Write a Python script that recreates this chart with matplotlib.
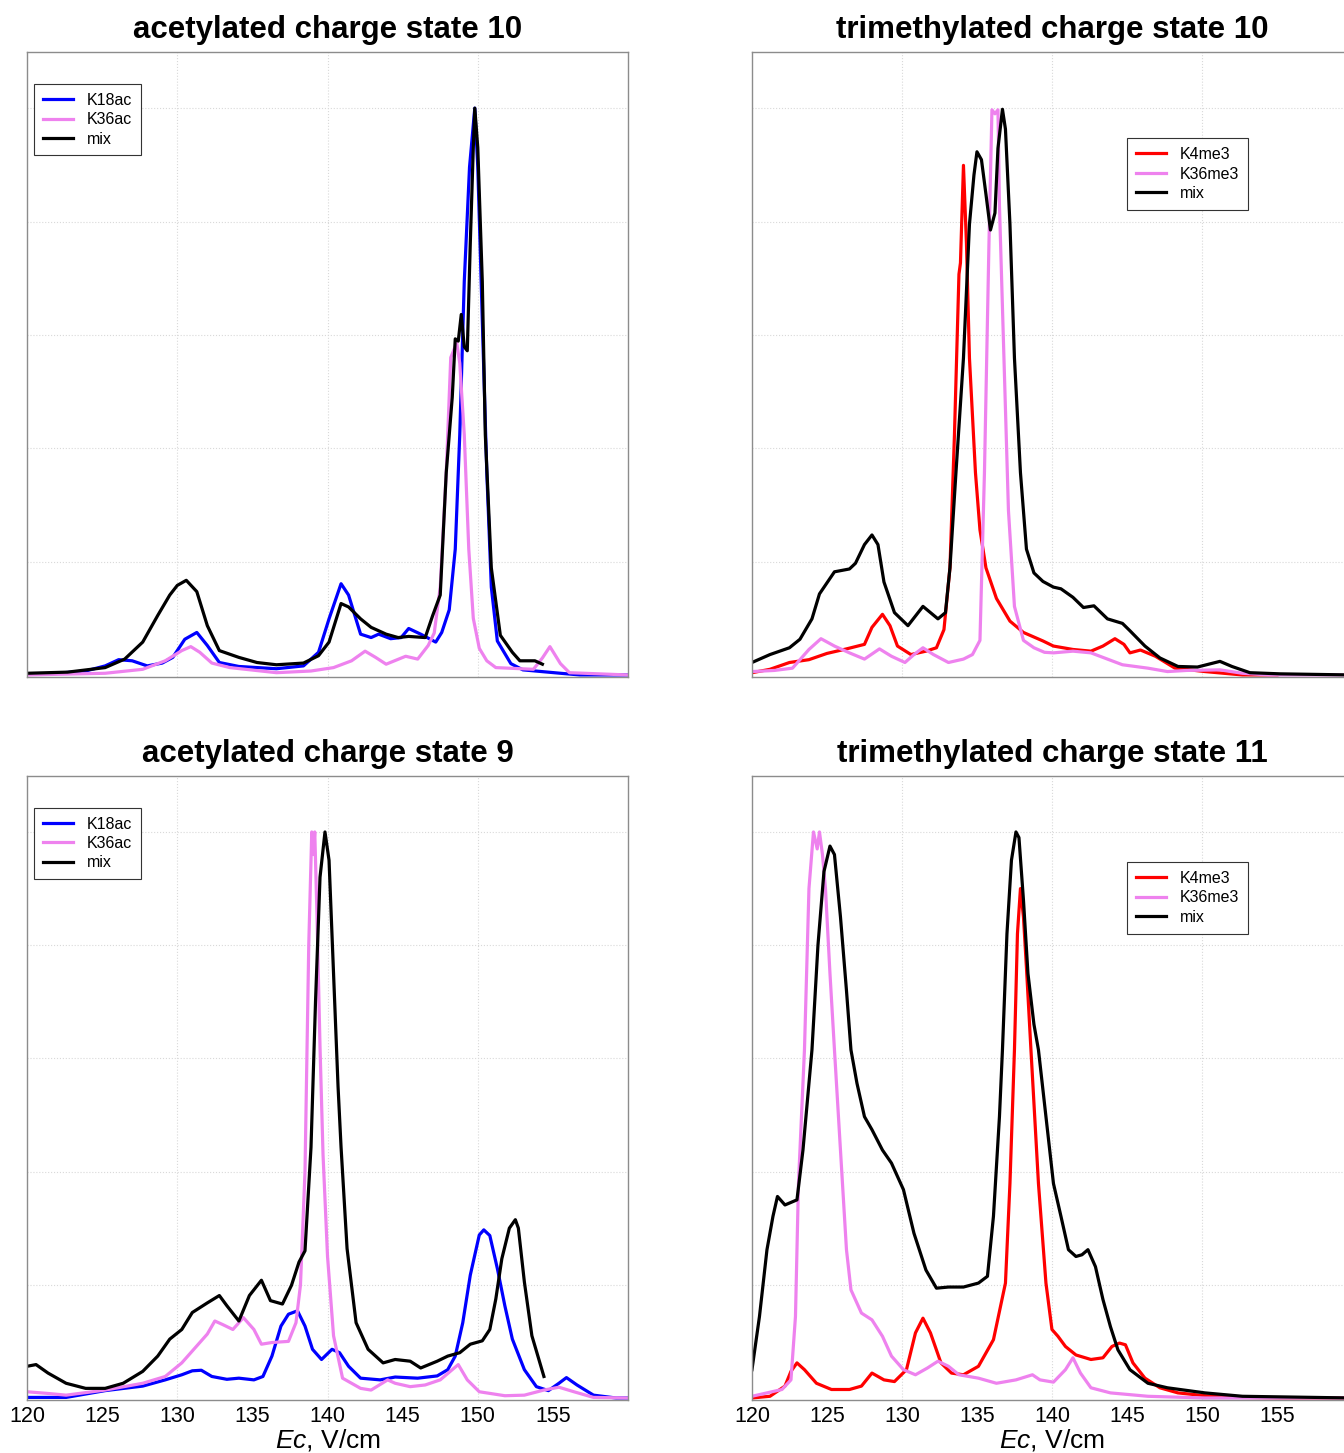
import numpy as np
import matplotlib
matplotlib.use("Agg")
import matplotlib.pyplot as plt

plt.rcParams['font.family'] = ['Liberation Sans', 'DejaVu Sans']
plt.rcParams['mathtext.fontset'] = 'custom'
plt.rcParams['mathtext.it'] = 'Liberation Sans:italic'
plt.rcParams['mathtext.rm'] = 'Liberation Sans'

# ---- acetylated charge state 10 ----
a10_k18_x = [120, 122, 123.9, 125.2, 126.1, 127.0, 128.0, 129.0, 129.7, 130.5, 131.3, 132.0, 132.8, 134.1,
             136.6, 138.4, 139.4, 140.1, 140.9, 141.4, 142.2, 142.9, 143.4, 144.2, 144.9, 145.4, 146.2,
             147.2, 147.6, 148.1, 148.5, 148.8, 149.1, 149.45, 149.8, 150.0, 150.3, 150.6, 150.9, 151.3,
             152.2, 153.0, 155.5, 156.8, 160]
a10_k18_y = [0.001, 0.003, 0.007, 0.016, 0.027, 0.025, 0.016, 0.021, 0.031, 0.063, 0.075, 0.052, 0.022, 0.015,
             0.011, 0.016, 0.040, 0.099, 0.161, 0.141, 0.072, 0.066, 0.072, 0.064, 0.066, 0.082, 0.072,
             0.058, 0.075, 0.115, 0.222, 0.424, 0.694, 0.896, 1.0, 0.896, 0.626, 0.357, 0.155, 0.06,
             0.02, 0.009, 0.003, 0.0, 0.0]
a10_k36_x = [120, 125.2, 127.7, 129.2, 130.3, 130.9, 131.5, 132.3, 133.5, 136.6, 138.9, 140.4, 141.6, 142.5,
             143.2, 143.9, 145.2, 146.0, 146.7, 147.1, 147.5, 147.9, 148.2, 148.6, 148.8, 149.1, 149.4,
             149.7, 150.1, 150.6, 151.2, 153.7, 154.3, 154.8, 155.5, 156.1, 160]
a10_k36_y = [0.0, 0.003, 0.010, 0.025, 0.043, 0.050, 0.040, 0.021, 0.013, 0.004, 0.007, 0.013, 0.025, 0.042,
             0.031, 0.019, 0.033, 0.028, 0.052, 0.074, 0.155, 0.357, 0.56, 0.586, 0.55, 0.424, 0.222,
             0.1, 0.047, 0.025, 0.013, 0.01, 0.03, 0.05, 0.02, 0.004, 0.0]
a10_mix_x = [120, 122.7, 125.2, 126.5, 127.7, 128.7, 129.5, 130.0, 130.6, 131.3, 132.0, 132.8, 134.1, 135.3,
             136.6, 138.4, 139.4, 140.1, 140.9, 141.4, 142.2, 142.9, 143.9, 144.7, 145.4, 146.5, 147.0,
             147.5, 147.9, 148.3, 148.5, 148.7, 148.9, 149.1, 149.3, 149.5, 149.7, 149.8, 150.0, 150.3,
             150.5, 150.9, 151.5, 152.3, 152.8, 153.8, 154.3]
a10_mix_y = [0.003, 0.005, 0.013, 0.028, 0.058, 0.105, 0.141, 0.158, 0.167, 0.147, 0.087, 0.043, 0.031, 0.022,
             0.018, 0.021, 0.034, 0.058, 0.126, 0.12, 0.099, 0.084, 0.072, 0.066, 0.068, 0.066, 0.105,
             0.141, 0.357, 0.49, 0.593, 0.589, 0.636, 0.579, 0.572, 0.761, 0.93, 1.0, 0.93, 0.694,
             0.424, 0.189, 0.07, 0.04, 0.025, 0.025, 0.019]

# ---- trimethylated charge state 10 ----
t10_k4_x = [120, 121.2, 122.5, 123.8, 125.0, 126.3, 127.5, 128.0, 128.7, 129.2, 129.7, 130.6, 131.6, 132.3,
            132.8, 133.2, 133.5, 133.8, 133.9, 134.1, 134.3, 134.5, 134.9, 135.2, 135.6, 136.3, 137.2,
            138.1, 139.4, 140.1, 141.4, 142.6, 143.4, 144.2, 144.8, 145.2, 145.9, 146.9, 148.2, 150.2,
            152.7, 155]
t10_k4_y = [0.004, 0.01, 0.022, 0.027, 0.038, 0.046, 0.054, 0.084, 0.107, 0.087, 0.051, 0.036, 0.042, 0.048,
            0.08, 0.189, 0.424, 0.707, 0.727, 0.899, 0.761, 0.559, 0.357, 0.256, 0.189, 0.135, 0.095,
            0.075, 0.06, 0.051, 0.045, 0.042, 0.051, 0.064, 0.054, 0.039, 0.044, 0.033, 0.012, 0.006,
            0.0, 0.0]
t10_k36_x = [120, 121.5, 122.7, 123.8, 124.6, 125.5, 126.5, 127.5, 128.5, 129.3, 130.2, 130.8, 131.4, 132.1,
             133.1, 134.1, 134.7, 135.2, 135.5, 135.8, 136.0, 136.2, 136.4, 136.5, 136.8, 137.1, 137.5,
             138.1, 138.8, 139.5, 140.1, 141.4, 142.6, 143.7, 144.7, 146.4, 147.7, 149.0, 151.2, 152.7,
             154.5, 160]
t10_k36_y = [0.006, 0.008, 0.012, 0.045, 0.064, 0.051, 0.039, 0.028, 0.046, 0.033, 0.022, 0.036, 0.048, 0.036,
             0.022, 0.028, 0.036, 0.061, 0.357, 0.761, 0.997, 0.99, 0.997, 0.828, 0.559, 0.29, 0.121,
             0.061, 0.048, 0.04, 0.039, 0.042, 0.039, 0.028, 0.018, 0.012, 0.006, 0.008, 0.009, 0.003,
             0.0, 0.0]
t10_mix_x = [120, 121.2, 122.5, 123.2, 124.0, 124.5, 125.5, 126.5, 126.9, 127.5, 128.0, 128.4, 128.8, 129.5,
             130.4, 130.9, 131.4, 131.9, 132.4, 132.9, 133.2, 133.6, 134.1, 134.5, 134.8, 135.0, 135.3,
             135.6, 135.9, 136.2, 136.4, 136.7, 136.9, 137.2, 137.5, 137.9, 138.3, 138.8, 139.4, 140.1,
             140.6, 141.4, 142.1, 142.8, 143.7, 144.7, 145.2, 146.2, 147.2, 148.4, 149.7, 150.6, 151.2,
             152.0, 153.2, 155.2, 160]
t10_mix_y = [0.022, 0.036, 0.048, 0.063, 0.099, 0.143, 0.182, 0.187, 0.197, 0.23, 0.247, 0.23, 0.164, 0.11,
             0.087, 0.104, 0.121, 0.11, 0.099, 0.11, 0.189, 0.357, 0.559, 0.795, 0.882, 0.923, 0.909,
             0.848, 0.785, 0.815, 0.929, 0.998, 0.963, 0.795, 0.559, 0.357, 0.222, 0.18, 0.165, 0.155,
             0.152, 0.137, 0.119, 0.122, 0.099, 0.091, 0.078, 0.051, 0.030, 0.015, 0.014, 0.02, 0.024,
             0.015, 0.004, 0.002, 0.0]

# ---- acetylated charge state 9 ----
a9_k18_x = [120, 122.6, 125.2, 127.7, 129.2, 130.3, 131.0, 131.6, 132.3, 133.3, 134.1, 135.1, 135.7, 136.3,
            136.9, 137.4, 138.0, 138.5, 139.0, 139.6, 140.3, 140.8, 141.4, 142.2, 143.5, 144.5, 146.0,
            147.3, 148.0, 148.5, 149.0, 149.5, 150.1, 150.4, 150.8, 151.3, 151.8, 152.3, 153.1, 153.9,
            154.7, 155.4, 155.9, 156.6, 157.7, 159.2, 160]
a9_k18_y = [0.001, 0.001, 0.013, 0.021, 0.032, 0.041, 0.048, 0.049, 0.038, 0.033, 0.035, 0.032, 0.038, 0.074,
            0.127, 0.148, 0.154, 0.127, 0.086, 0.068, 0.086, 0.08, 0.056, 0.035, 0.032, 0.037, 0.035,
            0.039, 0.05, 0.074, 0.133, 0.217, 0.288, 0.297, 0.287, 0.229, 0.163, 0.104, 0.05, 0.02,
            0.013, 0.026, 0.036, 0.023, 0.005, 0.0, 0.0]
a9_k36_x = [120, 121.4, 122.6, 125.2, 127.7, 129.2, 130.3, 131.3, 132.0, 132.5, 133.0, 133.7, 134.4, 135.1,
            135.6, 136.3, 137.4, 137.9, 138.2, 138.5, 138.75, 138.95, 139.05, 139.15, 139.3, 139.5, 139.7,
            140.0, 140.4, 141.0, 142.2, 142.9, 144.0, 144.5, 145.5, 146.5, 147.5, 148.3, 148.7, 149.3,
            150.1, 151.8, 153.1, 154.4, 155.4, 156.4, 157.7, 160]
a9_k36_y = [0.011, 0.008, 0.005, 0.014, 0.026, 0.038, 0.062, 0.092, 0.113, 0.136, 0.13, 0.121, 0.142, 0.121,
            0.095, 0.098, 0.1, 0.133, 0.2, 0.4, 0.8, 1.0, 0.96, 1.0, 0.85, 0.62, 0.43,
            0.25, 0.11, 0.035, 0.017, 0.014, 0.032, 0.026, 0.02, 0.023, 0.032, 0.05, 0.059, 0.032,
            0.011, 0.004, 0.005, 0.014, 0.019, 0.011, 0.001, 0.0]
a9_mix_x = [120, 120.6, 121.4, 122.6, 123.9, 125.2, 126.4, 127.7, 128.7, 129.5, 130.3, 131.0, 132.0, 132.8,
            133.3, 134.1, 134.8, 135.6, 136.2, 137.0, 137.6, 138.1, 138.5, 138.9, 139.2, 139.5, 139.83,
            140.1, 140.4, 140.7, 140.9, 141.3, 141.9, 142.7, 143.7, 144.5, 145.5, 146.2, 147.3, 148.0,
            148.8, 149.5, 150.3, 150.8, 151.2, 151.6, 152.1, 152.5, 152.7, 153.1, 153.6, 154.4]
a9_mix_y = [0.056, 0.059, 0.044, 0.026, 0.017, 0.017, 0.026, 0.047, 0.074, 0.104, 0.121, 0.151, 0.168, 0.181,
            0.163, 0.136, 0.181, 0.208, 0.172, 0.166, 0.199, 0.24, 0.26, 0.443, 0.7, 0.92, 1.0,
            0.95, 0.75, 0.55, 0.443, 0.264, 0.133, 0.086, 0.062, 0.068, 0.065, 0.053, 0.065, 0.074,
            0.08, 0.095, 0.101, 0.121, 0.175, 0.246, 0.3, 0.315, 0.3, 0.205, 0.11, 0.038]

# ---- trimethylated charge state 11 ----
t11_k4_x = [120, 121.2, 122.2, 122.6, 123.0, 123.5, 124.3, 125.3, 126.5, 127.3, 128.0, 128.8, 129.5, 130.3,
            130.9, 131.4, 131.9, 132.6, 133.3, 134.1, 135.1, 136.1, 136.9, 137.2, 137.5, 137.7, 137.9,
            138.1, 138.3, 138.6, 139.1, 139.6, 140.0, 140.4, 140.9, 141.6, 142.6, 143.4, 144.0, 144.5,
            144.9, 145.4, 146.2, 147.2, 148.4, 150.2, 152.7, 155.2, 160]
t11_k4_y = [0, 0.003, 0.021, 0.047, 0.062, 0.05, 0.026, 0.015, 0.015, 0.021, 0.044, 0.032, 0.029, 0.05,
            0.115, 0.141, 0.115, 0.062, 0.044, 0.041, 0.056, 0.103, 0.203, 0.379, 0.615, 0.82, 0.9,
            0.85, 0.76, 0.615, 0.379, 0.203, 0.121, 0.109, 0.091, 0.076, 0.068, 0.071, 0.091, 0.097,
            0.094, 0.062, 0.035, 0.018, 0.009, 0.004, 0.001, 0, 0]
t11_k36_x = [120, 121.0, 122.0, 122.6, 122.9, 123.1, 123.5, 123.8, 124.1, 124.35, 124.5, 124.7, 124.9, 125.2,
             125.5, 125.9, 126.3, 126.6, 127.3, 128.0, 128.7, 129.3, 130.1, 130.9, 131.7, 132.4, 133.1,
             133.8, 135.1, 136.3, 137.6, 138.7, 139.2, 140.1, 140.9, 141.4, 141.9, 142.6, 143.9, 146.4,
             150.2, 160]
t11_k36_y = [0.003, 0.009, 0.015, 0.032, 0.144, 0.379, 0.615, 0.9, 1.0, 0.97, 1.0, 0.96, 0.9, 0.75,
             0.615, 0.438, 0.262, 0.191, 0.15, 0.138, 0.109, 0.074, 0.05, 0.041, 0.053, 0.065, 0.056,
             0.041, 0.035, 0.026, 0.032, 0.041, 0.032, 0.028, 0.05, 0.071, 0.044, 0.018, 0.009, 0.003,
             0, 0]
t11_mix_x = [120, 120.5, 121.0, 121.4, 121.7, 122.2, 123.0, 123.4, 123.8, 124.0, 124.4, 124.8, 125.2, 125.5,
             125.9, 126.3, 126.6, 127.0, 127.5, 128.0, 128.7, 129.3, 130.1, 130.8, 131.6, 132.3, 133.1,
             134.1, 135.1, 135.7, 136.1, 136.5, 136.7, 137.0, 137.3, 137.6, 137.8, 138.1, 138.4, 138.8,
             139.1, 139.6, 140.1, 140.6, 141.1, 141.6, 142.0, 142.4, 142.9, 143.4, 143.9, 144.4, 145.2,
             146.4, 147.7, 150.2, 152.7, 160]
t11_mix_y = [0.05, 0.144, 0.262, 0.321, 0.356, 0.341, 0.35, 0.438, 0.556, 0.615, 0.8, 0.93, 0.975, 0.96,
             0.85, 0.72, 0.615, 0.556, 0.497, 0.474, 0.438, 0.415, 0.368, 0.291, 0.226, 0.194, 0.196,
             0.196, 0.203, 0.215, 0.321, 0.497, 0.615, 0.82, 0.95, 1.0, 0.99, 0.88, 0.75, 0.66,
             0.615, 0.497, 0.379, 0.321, 0.262, 0.25, 0.253, 0.262, 0.232, 0.174, 0.126, 0.085, 0.05,
             0.026, 0.018, 0.009, 0.003, 0]

x_ticks = [120, 125, 130, 135, 140, 145, 150, 155]
blue = '#0000ff'
violet = '#ee82ee'
red = '#ff0000'


def panel(ax, title, series, leg_pos, bottom):
    for x, y, c, lab in series:
        ax.plot(x, y, color=c, lw=2.3, label=lab)
    # dotted grid like R's grid()
    for gx in (130, 140, 150):
        ax.axvline(gx, color='#d9d9d9', lw=0.8, ls=':', zorder=0)
    for gy in (0.2, 0.4, 0.6, 0.8, 1.0):
        ax.axhline(gy, color='#d9d9d9', lw=0.8, ls=':', zorder=0)
    ax.set_xlim(120, 160)
    ax.set_ylim(-0.0035, 1.099)
    ax.set_yticks([])
    ax.set_xticks(x_ticks)
    ax.tick_params(axis='x', length=0, pad=4, labelsize=15.5)
    if not bottom:
        ax.set_xticklabels([])
    else:
        ax.set_xlabel(r'$\mathit{Ec}$, V/cm', fontsize=19, labelpad=0)
    for s in ax.spines.values():
        s.set_color('#8c8c8c')
        s.set_linewidth(1.0)
    ax.set_title(title, fontsize=22.5, fontweight='bold', pad=10)
    leg = ax.legend(loc='upper left', bbox_to_anchor=leg_pos, fontsize=11.5, handlelength=1.9,
                    labelspacing=0.28, borderpad=0.55, handletextpad=0.85, fancybox=False,
                    framealpha=1, borderaxespad=0)
    leg.get_frame().set_edgecolor('#333333')
    leg.get_frame().set_linewidth(0.8)


fig = plt.figure(figsize=(13.44, 14.53), dpi=100)
ax1 = fig.add_axes([0.0201, 0.5341, 0.4472, 0.4301])
ax2 = fig.add_axes([0.5595, 0.5341, 0.4464, 0.4301])
ax3 = fig.add_axes([0.0201, 0.0365, 0.4472, 0.4295])
ax4 = fig.add_axes([0.5595, 0.0365, 0.4464, 0.4295])

panel(ax1, 'acetylated charge state 10',
      [(a10_k18_x, a10_k18_y, blue, 'K18ac'), (a10_k36_x, a10_k36_y, violet, 'K36ac'),
       (a10_mix_x, a10_mix_y, 'black', 'mix')], (0.012, 0.949), False)
panel(ax2, 'trimethylated charge state 10',
      [(t10_k4_x, t10_k4_y, red, 'K4me3'), (t10_k36_x, t10_k36_y, violet, 'K36me3'),
       (t10_mix_x, t10_mix_y, 'black', 'mix')], (0.625, 0.862), False)
panel(ax3, 'acetylated charge state 9',
      [(a9_k18_x, a9_k18_y, blue, 'K18ac'), (a9_k36_x, a9_k36_y, violet, 'K36ac'),
       (a9_mix_x, a9_mix_y, 'black', 'mix')], (0.012, 0.949), True)
panel(ax4, 'trimethylated charge state 11',
      [(t11_k4_x, t11_k4_y, red, 'K4me3'), (t11_k36_x, t11_k36_y, violet, 'K36me3'),
       (t11_mix_x, t11_mix_y, 'black', 'mix')], (0.625, 0.862), True)

fig.savefig('out.png', dpi=100)
